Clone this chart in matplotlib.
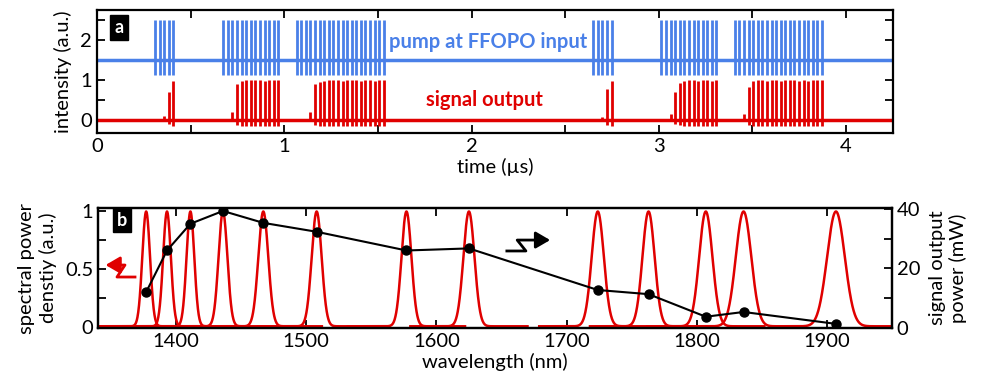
import numpy as np
import matplotlib
matplotlib.use("Agg")
import matplotlib.pyplot as plt
from matplotlib.ticker import MultipleLocator

plt.rcParams['font.family'] = ['Lato', 'DejaVu Sans']
plt.rcParams['font.size'] = 14.5

# ---- panel a: pulse trains (times in us) ----
burst_start = [0.310, 0.674, 1.066, 2.650, 3.014, 3.406]
burst_count = [5, 13, 20, 5, 13, 20]
pulse_period = 0.0245
pump_base = 1.5
pump_top = 2.5
pump_bottom = 1.12

# signal peak height for each pump pulse of each burst
signal_heights = [
    [0, 0, 0.1, 0.7, 0.96],
    [0, 0, 0.2, 0.9, 0.97, 1.0, 1.0, 1.0, 1.0, 0.98, 1.0, 1.0, 1.0],
    [0, 0, 0, 0.2, 0.9, 0.95, 0.97, 1.0, 1.0, 1.0, 0.98, 1.0, 1.0, 1.0, 0.98, 1.0, 1.0, 0.98, 1.0, 1.0],
    [0, 0, 0.08, 0.78, 0.97],
    [0, 0, 0.15, 0.7, 0.92, 0.98, 1.0, 1.0, 0.97, 1.0, 1.0, 0.98, 1.0],
    [0, 0, 0.15, 0.83, 0.97, 1.0, 1.0, 0.98, 1.0, 1.0, 0.98, 1.0, 1.0, 1.0, 0.98, 1.0, 0.98, 1.0, 1.0, 1.0],
]

# ---- panel b: spectra and output power ----
peak_nm = [1377, 1393, 1411, 1436, 1467, 1508, 1577, 1625, 1724, 1763, 1807, 1836, 1907]
peak_fwhm = [7, 7, 7, 8, 9, 9, 9, 10, 11, 11, 12, 14, 16]
power_mw = [12, 26, 35, 39.3, 35.3, 32.3, 26, 26.7, 12.7, 11.3, 3.7, 5.3, 1.3]

blue = "#4a80e8"
red = "#e00000"

fig = plt.figure(figsize=(9.85, 3.85), dpi=100)
ax1 = fig.add_axes([0.0985, 0.6545, 0.808, 0.3195])
ax2 = fig.add_axes([0.0995, 0.148, 0.806, 0.3117])

def style_ticks(ax, **kw):
    ax.tick_params(which="both", direction="in", width=1.3, **kw)
    ax.tick_params(which="major", length=6)
    ax.tick_params(which="minor", length=6)
    for s in ax.spines.values():
        s.set_linewidth(1.6)

# panel a
ax1.plot([0, 4.25], [pump_base, pump_base], color=blue, lw=2.5)
ax1.plot([0, 4.25], [0, 0], color=red, lw=2.5)
for start, n, heights in zip(burst_start, burst_count, signal_heights):
    t = start + pulse_period * np.arange(n)
    ax1.vlines(t, pump_bottom, pump_top, color=blue, lw=2)
    h = np.array(heights)
    keep = h > 0
    ax1.vlines(t[keep], -0.15 * h[keep], h[keep], color=red, lw=2)

ax1.set_xlim(0, 4.25)
ax1.set_ylim(-0.33, 2.75)
ax1.xaxis.set_major_locator(MultipleLocator(1))
ax1.xaxis.set_minor_locator(MultipleLocator(0.5))
ax1.yaxis.set_major_locator(MultipleLocator(1))
ax1.yaxis.set_minor_locator(MultipleLocator(0.5))
style_ticks(ax1, top=True, right=True)
ax1.set_xlabel("time (µs)", labelpad=2)
ax1.set_ylabel("intensity (a.u.)", labelpad=6)
ax1.text(0.4915, 0.74, "pump at FFOPO input", transform=ax1.transAxes,
         color=blue, fontweight="bold", ha="center", va="center", fontsize=14.5)
ax1.text(0.487, 0.268, "signal output", transform=ax1.transAxes,
         color=red, fontweight="bold", ha="center", va="center", fontsize=14.5)
ax1.text(0.0276, 0.855, "a", transform=ax1.transAxes, color="white",
         fontweight="bold", ha="center", va="center", fontsize=13,
         bbox=dict(boxstyle="square,pad=0.22", fc="black", ec="black"))

# panel b
for c, w in zip(peak_nm, peak_fwhm):
    x = np.linspace(c - 45, c + 45, 600)
    sig = w / 2.355
    y = 0.01 + 0.99 * np.exp(-0.5 * ((x - c) / sig) ** 2)
    ax2.plot(x, y, color=red, lw=1.8)
ax2.set_xlim(1340, 1950)
ax2.set_ylim(-0.005, 1.03)
ax2.xaxis.set_major_locator(MultipleLocator(100))
ax2.yaxis.set_minor_locator(MultipleLocator(0.25))
ax2.set_yticks([0, 0.5, 1])
ax2.set_yticklabels(["0", "0.5", "1"])
style_ticks(ax2, top=True, right=False)
ax2.set_xlabel("wavelength (nm)", labelpad=2)
ax2.set_ylabel("spectral power\ndenstiy (a.u.)", labelpad=6)

ax3 = ax2.twinx()
ax3.plot(peak_nm, power_mw, color="black", lw=1.5, marker="o", ms=6.5)
ax3.set_ylim(-0.1, 40.3)
ax3.yaxis.set_major_locator(MultipleLocator(20))
ax3.yaxis.set_minor_locator(MultipleLocator(10))
style_ticks(ax3)
ax3.set_ylabel("signal output\npower (mW)", labelpad=6)

ax2.text(0.030, 0.9, "b", transform=ax2.transAxes, color="white",
         fontweight="bold", ha="center", va="center", fontsize=13,
         bbox=dict(boxstyle="square,pad=0.22", fc="black", ec="black"))

# zigzag arrows
ax2.plot([0.0466, 0.0239, 0.034, 0.02], [0.425, 0.425, 0.525, 0.525],
         color=red, lw=2, transform=ax2.transAxes, clip_on=False)
ax2.annotate("", xy=(0.006, 0.525), xytext=(0.025, 0.525),
             xycoords="axes fraction", textcoords="axes fraction",
             arrowprops=dict(arrowstyle="-|>,head_length=0.6,head_width=0.35",
                             color=red, lw=2))
ax2.plot([0.515, 0.539, 0.528, 0.555], [0.642, 0.642, 0.733, 0.733],
         color="black", lw=2, transform=ax2.transAxes)
ax2.annotate("", xy=(0.573, 0.733), xytext=(0.550, 0.733),
             xycoords="axes fraction", textcoords="axes fraction",
             arrowprops=dict(arrowstyle="-|>,head_length=0.6,head_width=0.35",
                             color="black", lw=2))

fig.savefig("out.png", dpi=100)
